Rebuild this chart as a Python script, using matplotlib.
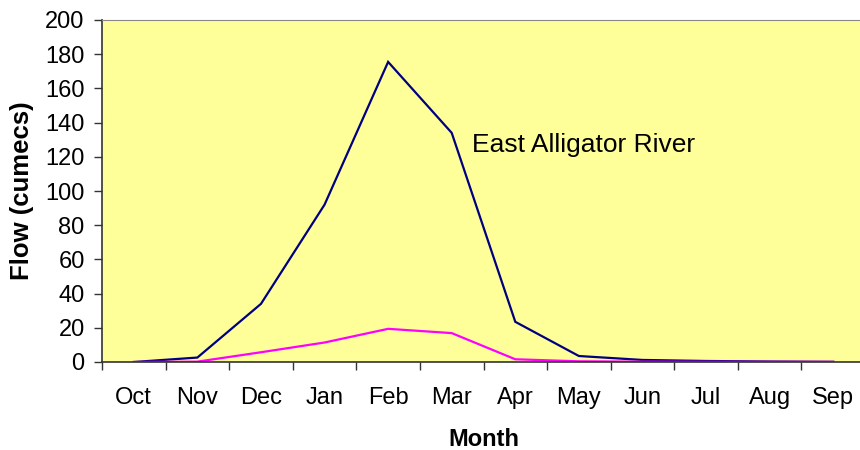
import numpy as np
import matplotlib.pyplot as plt
from matplotlib.ticker import FixedLocator, NullFormatter

plt.rcParams['font.family'] = ['Liberation Sans', 'DejaVu Sans']

months = ['Oct', 'Nov', 'Dec', 'Jan', 'Feb', 'Mar', 'Apr', 'May', 'Jun', 'Jul', 'Aug', 'Sep']
east_alligator = [0, 2.6, 34, 92, 175.5, 134, 23.5, 3.5, 1.2, 0.6, 0.3, 0.1]
second_site = [0, 0.2, 5.7, 11.4, 19.4, 16.9, 1.6, 0.4, 0.2, 0.1, 0.1, 0.1]

fig = plt.figure(figsize=(8.6, 4.5), dpi=100)
ax = fig.add_axes([102 / 860, 88 / 450, 763 / 860, 342 / 450])
ax.set_facecolor('#FFFF99')

x = np.arange(len(months))
ax.plot(x, east_alligator, color='#000080', lw=1.6, solid_joinstyle='miter')
ax.plot(x, second_site, color='#FF00FF', lw=1.6, solid_joinstyle='miter')

ax.set_xlim(-0.5, len(months) - 0.5)
ax.set_ylim(0, 200)
ax.set_yticks(np.arange(0, 201, 20))

# category labels sit between the tick marks
ax.xaxis.set_major_locator(FixedLocator(np.arange(-0.5, len(months), 1)))
ax.xaxis.set_major_formatter(NullFormatter())
ax.xaxis.set_minor_locator(FixedLocator(x))
ax.set_xticklabels(months, minor=True)
ax.tick_params(axis='x', which='major', length=5.5, width=1, color='#333333', direction='out')
ax.tick_params(axis='x', which='minor', length=0, pad=18, labelsize=17)
ax.tick_params(axis='y', length=5.5, width=1, color='#333333', direction='out', labelsize=17, pad=7)

for side in ['left', 'bottom']:
    ax.spines[side].set_color('#333333')
    ax.spines[side].set_linewidth(1.2)
ax.spines['top'].set_color('#888888')
ax.spines['right'].set_visible(False)

ax.text(5.32, 122.8, 'East Alligator River', fontsize=19, va='baseline', ha='left')

ax.set_xlabel('Month', fontsize=17, fontweight='bold', labelpad=14)
ax.set_ylabel('Flow (cumecs)', fontsize=18.5, fontweight='bold', labelpad=8)

fig.savefig('out.png', dpi=100)
